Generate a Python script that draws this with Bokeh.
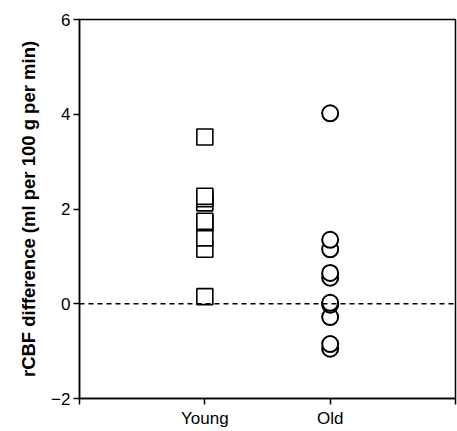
from bokeh.plotting import figure
from bokeh.models import Range1d, FixedTicker, Span
from bokeh.embed import file_html
from bokeh.resources import INLINE

groups = ["Young", "Old"]
young_values = [0.15, 1.15, 1.39, 1.71, 1.74, 2.13, 2.22, 2.27, 3.52]
old_values = [-0.95, -0.85, -0.28, -0.02, 0.02, 0.55, 0.65, 1.15, 1.35, 4.02]
y_ticks = [-2, 0, 2, 4, 6]
x_ticks = [0, 1, 2, 3]
x_tick_labels = {0: "", 1: "Young", 2: "Old", 3: ""}
y_label = "rCBF difference (ml per 100 g per min)"

FONT = "Liberation Sans"

p = figure(width=457, height=431, output_backend="svg", toolbar_location=None,
           x_range=Range1d(0, 3), y_range=Range1d(-2, 6),
           min_border_left=79, min_border_right=2, min_border_top=19, min_border_bottom=33)
p.grid.visible = False
p.outline_line_color = "black"
p.outline_line_width = 1.5
p.background_fill_color = "white"
p.border_fill_color = "white"

for ax in (p.xaxis[0], p.yaxis[0]):
    ax.axis_line_color = "black"
    ax.axis_line_width = 1.5
    ax.major_tick_line_color = "black"
    ax.major_tick_line_width = 1.5
    ax.major_tick_out = 6
    ax.major_tick_in = 0
    ax.minor_tick_line_color = None
    ax.major_label_text_font = FONT
    ax.major_label_text_font_size = "17px"
    ax.major_label_text_color = "black"

p.xaxis.ticker = FixedTicker(ticks=x_ticks)
p.xaxis.major_label_overrides = x_tick_labels
p.xaxis.major_label_standoff = 4
p.yaxis.ticker = FixedTicker(ticks=y_ticks)
p.yaxis.major_label_standoff = 3
p.yaxis.axis_label = y_label
p.yaxis.axis_label_text_font = FONT
p.yaxis.axis_label_text_font_style = "bold"
p.yaxis.axis_label_text_font_size = "18.5px"
p.yaxis.axis_label_text_color = "black"
p.yaxis.axis_label_standoff = 9

zero = Span(location=0, dimension="width", line_color="black", line_width=1.5, line_dash="5 4")
p.add_layout(zero)

p.scatter([1] * len(young_values), young_values, marker="square", size=16,
          fill_color="white", line_color="black", line_width=1.6)
p.scatter([2] * len(old_values), old_values, marker="circle", size=16,
          fill_color="white", line_color="black", line_width=2)

open("out.html", "w").write(file_html(p, INLINE))
